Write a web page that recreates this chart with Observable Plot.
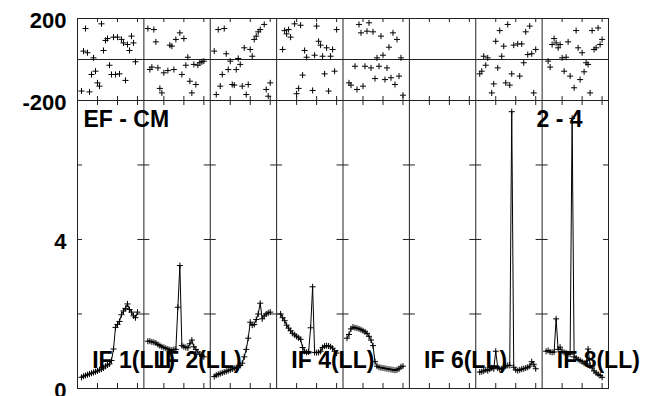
<!DOCTYPE html>
<html>
<head>
<meta charset="utf-8">
<script src="https://cdn.jsdelivr.net/npm/d3@7"></script>
<script src="https://cdn.jsdelivr.net/npm/@observablehq/plot@0.6"></script>
<style>
  body { margin: 0; background: #fff; }
  #chart { position: relative; width: 649px; height: 396px; overflow: hidden; background: #fff; }
  #chart svg { position: absolute; left: 0; top: 0; background: transparent !important; }
</style>
</head>
<body>
<div id="chart"></div>
<script>
// ---- data ----
const channels = d3.range(2, 31);          // channels plotted per IF (2..30)
const chanPerPanel = 33.2;                 // channel span of one IF panel
const panelCount = 8;
const chanTicks = [10, 20, 30];
const phaseTicks = [-200, 200];
const ampMinorTicks = [2, 4, 6];
const ampTickLabels = [0, 4];
const ampMax = 7.73;
const baselineLabel = "EF - CM";
const sourceLabel = "2 - 4";
const ifLabels = ["IF 1(LL)", "IF 2(LL)", "IF 4(LL)", "IF 6(LL)", "IF 8(LL)"];
const ifLabelPanels = [0, 1, 3, 5, 7];

const amp1 = [0.30,0.33,0.35,0.37,0.39,0.41,0.43,0.45,0.47,0.50,0.52,0.55,0.60,0.63,0.66,0.75,1.06,1.64,1.72,1.80,1.98,2.08,2.15,2.27,2.12,2.05,1.95,1.90,2.05];
const amp2 = [1.27,1.27,1.25,1.24,1.22,1.18,1.15,1.12,1.10,1.08,1.06,1.04,1.03,1.05,1.05,2.18,3.30,1.15,1.12,1.10,1.09,1.20,1.30,1.12,1.05,0.98,0.92,0.88,0.85];
const amp3 = [0.32,0.36,0.38,0.40,0.42,0.44,0.46,0.48,0.50,0.52,0.54,0.56,0.58,0.62,0.68,0.85,1.05,1.35,1.78,1.70,1.72,1.85,2.00,2.29,1.87,1.95,2.00,2.03,2.05];
const amp4 = [2.00,1.90,1.82,1.70,1.62,1.55,1.48,1.44,1.40,1.36,1.32,1.10,1.00,0.97,0.98,1.63,2.73,0.97,0.96,0.97,1.00,1.10,1.14,1.15,1.14,1.12,1.08,1.00,0.95];
const amp5 = [1.35,1.45,1.60,1.65,1.63,1.62,1.60,1.58,1.55,1.52,1.48,1.40,1.30,1.15,0.72,0.60,0.57,0.56,0.55,0.54,0.53,0.52,0.51,0.50,0.49,0.50,0.53,0.58,0.60];
const amp6 = [];
const amp7 = [0.44,0.45,0.47,0.50,0.48,0.52,0.55,0.53,1.00,0.55,0.52,0.53,0.56,0.60,0.62,0.62,7.43,0.57,0.50,0.48,0.50,0.52,0.53,0.55,0.57,0.60,0.72,0.65,0.53];
const amp8 = [1.00,1.02,0.98,0.97,0.98,1.87,1.05,1.11,1.00,0.97,0.95,0.93,0.92,7.25,0.85,0.82,0.78,0.75,0.72,0.68,0.66,1.06,0.62,0.55,0.47,0.42,0.38,0.35,0.30];

const ph1 = [-154,41,151,33,-158,-73,8,-57,-114,-130,174,44,93,102,-28,-73,109,-73,109,-70,98,81,-102,73,44,114,81,-11,null];
const ph2 = [151,-49,-37,146,86,-41,-141,-163,-65,null,-54,70,65,-49,98,null,130,-73,102,-28,11,-106,-163,-24,-122,-28,-16,-11,-8];
const ph3 = [41,-171,146,-130,-73,151,28,-49,-8,-122,-125,-49,5,-24,-130,57,-171,-122,49,16,98,114,135,146,null,171,-146,-179,-114];
const ph4 = [null,49,141,125,146,109,null,174,-167,-141,167,-76,44,11,null,null,-151,21,163,89,70,16,-70,57,-154,16,49,-57,146];
const ph5 = [null,-114,-125,null,-33,-146,171,130,-130,-33,138,179,-41,135,-93,8,-33,114,21,-98,-41,60,-89,130,-122,98,-81,8,-174];
const ph6 = [];
const ph7 = [-70,-57,16,-28,8,null,-163,-119,89,-41,141,16,65,-114,171,-125,-70,70,null,76,-81,76,-16,135,24,163,28,-163,49];
const ph8 = [null,-8,-37,73,102,81,57,73,8,-57,11,86,-81,null,-138,141,57,-98,33,-60,-16,-24,-163,141,49,57,154,73,98];

// ---- build tables ----
const ampSeries = [amp1, amp2, amp3, amp4, amp5, amp6, amp7, amp8];
const phaseSeries = [ph1, ph2, ph3, ph4, ph5, ph6, ph7, ph8];
const rows = [];
ampSeries.forEach((arr, k) => arr.forEach((v, i) => rows.push({
  panel: k, x: k * chanPerPanel + channels[i], amp: v, phase: phaseSeries[k][i]
})));
const phaseRows = rows.filter(d => d.phase != null);
const innerEdges = d3.range(1, panelCount).map(k => k * chanPerPanel);
const xTickVals = d3.range(panelCount).flatMap(k => chanTicks.map(t => k * chanPerPanel + t));
const crossTicks = d3.cross(innerEdges, ampMinorTicks).map(([e, v]) => ({e, v}));
const xMax = panelCount * chanPerPanel;

const W = 649, H = 396, ML = 77, MR = 41;
const FONT = "'Liberation Sans', Arial, Helvetica, sans-serif";
const LINE = "#222";
const plainFormat = d => String(d);

const phasePlot = Plot.plot({
  width: W, height: H,
  marginLeft: ML, marginRight: MR, marginTop: 18, marginBottom: H - 100,
  x: {domain: [0, xMax], axis: null},
  y: {domain: [-200, 200]},
  style: {background: "transparent", fontFamily: FONT, overflow: "visible"},
  marks: [
    Plot.ruleY([0], {stroke: LINE}),
    Plot.ruleX(innerEdges, {stroke: LINE}),
    Plot.frame({stroke: LINE}),
    Plot.ruleX(xTickVals, {x: d => d, y1: 200, y2: 200, insetBottom: -4, stroke: LINE}),
    Plot.ruleX(xTickVals, {x: d => d, y1: -200, y2: -200, insetTop: -4, stroke: LINE}),
    Plot.dot(phaseRows, {x: "x", y: "phase", symbol: "plus", r: 2.1, stroke: "#000", strokeWidth: 1}),
    Plot.axisY(phaseTicks, {tickSize: 0, tickPadding: 11, tickFormat: plainFormat, fontSize: 22, fontWeight: "bold", dy: 2, label: null, fill: "#000"})
  ]
});

const ampPlot = Plot.plot({
  width: W, height: H,
  marginLeft: ML, marginRight: MR, marginTop: 100, marginBottom: 8,
  x: {domain: [0, xMax], axis: null},
  y: {domain: [0, ampMax]},
  style: {background: "transparent", fontFamily: FONT, overflow: "visible"},
  marks: [
    Plot.ruleX(innerEdges, {stroke: LINE}),
    Plot.frame({stroke: LINE}),
    Plot.ruleX(xTickVals, {x: d => d, y1: 0, y2: 0, insetBottom: 5, stroke: LINE}),
    Plot.ruleX(xTickVals, {x: d => d, y1: ampMax, y2: ampMax, insetBottom: -5, stroke: LINE}),
    Plot.ruleY(ampMinorTicks, {y: d => d, x1: 0, x2: 0, insetRight: -5, stroke: LINE}),
    Plot.ruleY(ampMinorTicks, {y: d => d, x1: xMax, x2: xMax, insetLeft: -5, stroke: LINE}),
    Plot.ruleY(crossTicks, {y: "v", x1: "e", x2: "e", insetLeft: -6, insetRight: -6, stroke: LINE}),
    Plot.line(rows, {x: "x", y: "amp", z: "panel", stroke: "#000", strokeWidth: 1}),
    Plot.dot(rows, {x: "x", y: "amp", symbol: "plus", r: 2.1, stroke: "#000", strokeWidth: 1}),
    Plot.axisY(ampTickLabels, {tickSize: 0, tickPadding: 11, tickFormat: plainFormat, fontSize: 22, fontWeight: "bold", dy: 2, label: null, fill: "#000"}),
    Plot.text([baselineLabel], {text: d => d, frameAnchor: "top-left", dx: 6, dy: 10.5, textAnchor: "start", lineAnchor: "top", fontSize: 23, fontWeight: "bold", fill: "#000"}),
    Plot.text([sourceLabel], {text: d => d, frameAnchor: "top-right", dx: -26, dy: 10.5, textAnchor: "end", lineAnchor: "top", fontSize: 23, fontWeight: "bold", fill: "#000"}),
    Plot.text(ifLabels, {text: d => d, x: (d, i) => ifLabelPanels[i] * chanPerPanel, frameAnchor: "bottom", dx: 14.7, dy: -21, textAnchor: "start", lineAnchor: "bottom", fontSize: 23, fontWeight: "bold", fill: "#000"})
  ]
});

const chart = document.getElementById("chart");
chart.appendChild(phasePlot);
chart.appendChild(ampPlot);
</script>
</body>
</html>
